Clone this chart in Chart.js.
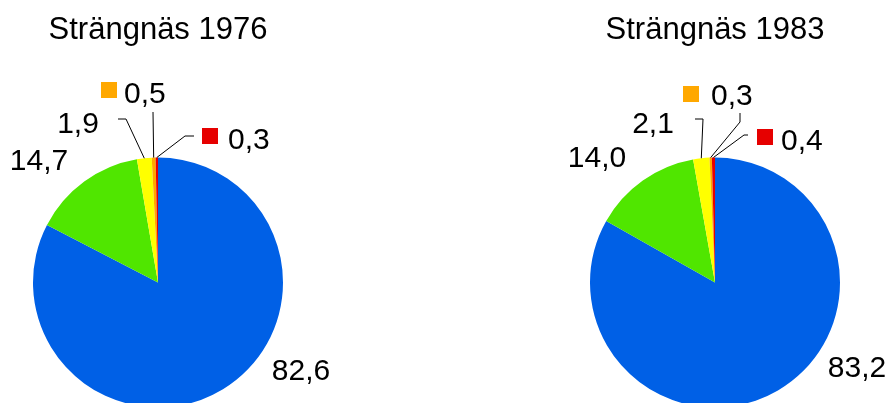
<!DOCTYPE html>
<html>
<head>
<meta charset="utf-8">
<script src="https://cdn.jsdelivr.net/npm/chart.js@4.4.1/dist/chart.umd.min.js"></script>
<style>
    html, body { margin: 0; padding: 0; background: #fff; overflow: hidden; }
    #wrap { position: relative; width: 893px; height: 403px; overflow: hidden; }
    canvas { position: absolute; top: 0; }
</style>
</head>
<body>
<div id="wrap">
    <canvas id="pie1976" width="446" height="440" style="left:0"></canvas>
    <canvas id="pie1983" width="447" height="440" style="left:446px"></canvas>
</div>
<script>
const categories = ['Kategori 1', 'Kategori 2', 'Kategori 3', 'Kategori 4', 'Kategori 5'];
const years = ['1976', '1983'];
const values1976 = [82.6, 14.7, 1.9, 0.5, 0.3];
const values1983 = [83.2, 14.0, 2.1, 0.3, 0.4];
const titlePrefix = 'Strängnäs ';

const colors = ['#0060e6', '#50e600', '#ffff00', '#ffa800', '#e60000'];
const font = "'Liberation Sans', Arial, sans-serif";

// label placement in page pixels: text anchor, optional colour square, optional leader points
const layout1976 = {
    offsetX: 0,
    titleX: 158,
    labels: [
        { x: 301, y: 380, align: 'center' },
        { x: 39, y: 170, align: 'center' },
        { x: 78, y: 133, align: 'center', lead: [[118, 119], [126, 119]] },
        { x: 124, y: 103, align: 'left', sq: [101, 82], lead: [[153, 112]] },
        { x: 228, y: 149, align: 'left', sq: [202, 128], lead: [[194, 136], [185, 136]] }
    ]
};
const layout1983 = {
    offsetX: 446,
    titleX: 715,
    labels: [
        { x: 857, y: 377, align: 'center' },
        { x: 597, y: 167, align: 'center' },
        { x: 653, y: 133, align: 'center', lead: [[695, 119], [703, 119]] },
        { x: 711, y: 105, align: 'left', sq: [683, 86], lead: [[740, 113], [740, 122]] },
        { x: 781, y: 150, align: 'left', sq: [757, 129], lead: [[748, 135], [744, 135]] }
    ]
};

const fmt = v => v.toFixed(1).replace('.', ',');

const labelPlugin = {
    id: 'pieLabels',
    afterDraw(chart) {
        const ctx = chart.ctx;
        const opts = chart.options.plugins.pieLabels;
        const lay = opts.layout;
        const ox = lay.offsetX;
        const meta = chart.getDatasetMeta(0);
        const values = chart.data.datasets[0].data;

        ctx.save();
        ctx.fillStyle = '#000';
        ctx.font = '31px ' + font;
        ctx.textAlign = 'center';
        ctx.textBaseline = 'alphabetic';
        ctx.fillText(opts.title, lay.titleX - ox, 39);

        ctx.font = '30px ' + font;
        meta.data.forEach((arc, i) => {
            const l = lay.labels[i];
            const p = arc.getProps(['x', 'y', 'startAngle', 'endAngle', 'outerRadius'], true);
            const mid = (p.startAngle + p.endAngle) / 2;
            const ax = p.x + Math.cos(mid) * p.outerRadius;
            const ay = p.y + Math.sin(mid) * p.outerRadius;

            if (l.lead) {
                ctx.beginPath();
                ctx.strokeStyle = '#000';
                ctx.lineWidth = 1;
                ctx.moveTo(l.lead[0][0] - ox, l.lead[0][1]);
                l.lead.slice(1).forEach(pt => ctx.lineTo(pt[0] - ox, pt[1]));
                ctx.lineTo(ax, ay);
                ctx.stroke();
            }
            if (l.sq) {
                ctx.fillStyle = colors[i];
                ctx.fillRect(l.sq[0] - ox, l.sq[1], 16, 16);
            }
            ctx.fillStyle = '#000';
            ctx.textAlign = l.align;
            ctx.fillText(fmt(values[i]), l.x - ox, l.y);
        });
        ctx.restore();
    }
};

function lagPaj(id, values, year, lay, padding) {
    return new Chart(document.getElementById(id), {
        type: 'pie',
        data: {
            labels: categories,
            datasets: [{
                data: values,
                backgroundColor: colors,
                borderWidth: 0
            }]
        },
        options: {
            responsive: false,
            devicePixelRatio: 1,
            animation: false,
            layout: { padding: padding },
            plugins: {
                legend: { display: false },
                tooltip: { enabled: false },
                pieLabels: { layout: lay, title: titlePrefix + year }
            }
        },
        plugins: [labelPlugin]
    });
}

lagPaj('pie1976', values1976, years[0], layout1976, { left: 33, right: 163, top: 157.5, bottom: 32.5 });
lagPaj('pie1983', values1983, years[1], layout1983, { left: 144, right: 53, top: 157.5, bottom: 32.5 });
</script>
</body>
</html>
